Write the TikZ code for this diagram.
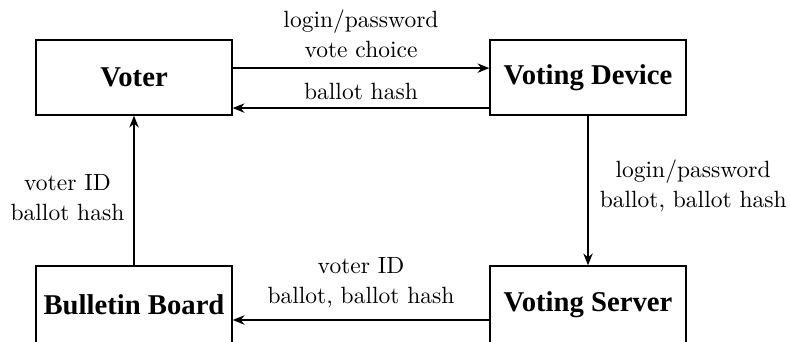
\documentclass[tikz,border=0pt]{standalone}
\usepackage{fontspec}
\newfontfamily\tnr{Liberation Serif}
\usetikzlibrary{arrows.meta}
\begin{document}
\begin{tikzpicture}[x=0.4255pt,y=-0.4255pt,
 box/.style={draw, line width=0.6pt, minimum width=83.4pt, minimum height=31.9pt, inner sep=0pt, font=\tnr\bfseries\fontsize{12.2}{14}\selectfont},
 conn/.style={draw, line width=0.6pt, -{Stealth[length=5pt,width=4pt,inset=1.6pt]}},
 lbl/.style={font=\fontsize{10}{12.8}\selectfont, align=center, inner sep=1pt}]
\useasboundingbox (0,0) rectangle (790,341);
\node[box] (voter) at (134,77.5) {Voter};
\node[box] (device) at (588,77.5) {Voting Device};
\node[box, minimum height=32.8pt] (board) at (134,304.5) {Bulletin Board};
\node[box, minimum height=32.8pt] (server) at (588,304.5) {Voting Server};
\draw[conn] ([yshift=4pt]voter.east) -- node[lbl, above=3pt]{login/password\\vote choice} ([yshift=4pt]device.west);
\draw[conn] ([yshift=-13pt]device.west) -- node[lbl, above=2.4pt]{ballot hash} ([yshift=-13pt]voter.east);
\draw[conn] (device.south) -- node[lbl, right=3.7pt, pos=0.47]{login/password\\ballot, ballot hash} (server.north);
\draw[conn] (server.west |- 0,320) -- node[lbl, above=3.9pt]{voter ID\\ballot, ballot hash} (board.east |- 0,320);
\draw[conn] (board.north) -- node[lbl, left=2.8pt, pos=0.454]{voter ID\\ballot hash} (voter.south);
\end{tikzpicture}
\end{document}
